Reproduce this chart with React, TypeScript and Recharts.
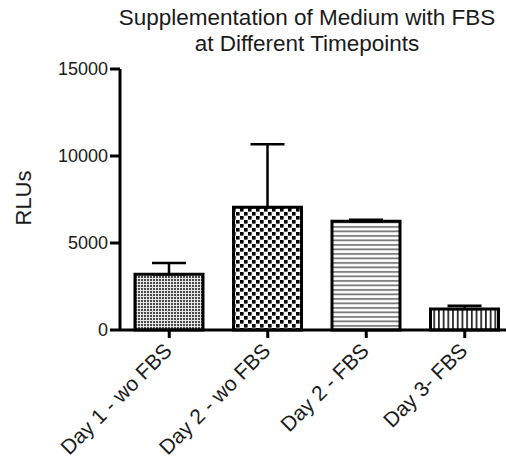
import React from 'react';
import { BarChart, Bar, XAxis, YAxis, ErrorBar, Cell } from 'recharts';

const categories = ['Day 1 - wo FBS', 'Day 2 - wo FBS', 'Day 2 - FBS', 'Day 3- FBS'];
const rlus = [3200, 7050, 6250, 1200];
const upperErr = [650, 3620, 80, 190];
const yTicks = [0, 5000, 10000, 15000];
const patterns = ['fineCheck', 'coarseCheck', 'hLines', 'vLines'];

const data = categories.map((name, i) => ({ name, value: rlus[i], err: [0, upperErr[i]] }));

const FONT = '"Liberation Sans", Arial, Helvetica, sans-serif';

const XTick = (props: any) => {
    const { x, y, payload } = props;
    return (
        <g transform={`translate(${x + 4},${y + 12})`}>
            <text x={0} y={0} transform="rotate(-45)" textAnchor="end" fill="#1a1a1a" fontSize={21} fontFamily={FONT}>
                {payload.value}
            </text>
        </g>
    );
};

export default function App() {
    return (
        <div style={{ position: 'absolute', left: 0, top: 0, width: 506, height: 462, overflow: 'hidden', background: '#fff' }}>
            <div style={{ position: 'absolute', left: 107, width: 400, top: 5, textAlign: 'center', fontFamily: FONT, fontSize: 22.5, lineHeight: '26px', color: '#1a1a1a' }}>
                Supplementation of Medium with FBS<br />at Different Timepoints
            </div>
            <div style={{ position: 'absolute', left: 24, top: 198, transform: 'translate(-50%, -50%) rotate(-90deg)', fontFamily: FONT, fontSize: 22, color: '#1a1a1a', whiteSpace: 'nowrap' }}>
                RLUs
            </div>
            <BarChart width={514} height={462} data={data} margin={{ top: 69, right: 0, bottom: 0, left: 0 }}>
                <defs>
                    <pattern id="fineCheck" width={3} height={3} patternUnits="userSpaceOnUse">
                        <rect width={3} height={3} fill="#e6e6e6" />
                        <rect x={0} y={0} width={2} height={2} fill="#4a4a4a" />
                    </pattern>
                    <pattern id="coarseCheck" width={8} height={8} patternUnits="userSpaceOnUse">
                        <rect width={8} height={8} fill="#fff" />
                        <rect x={0} y={0} width={3.6} height={3.6} fill="#000" />
                        <rect x={4} y={4} width={3.6} height={3.6} fill="#000" />
                    </pattern>
                    <pattern id="hLines" width={8} height={4.5} patternUnits="userSpaceOnUse">
                        <rect width={8} height={4.5} fill="#fff" />
                        <rect x={0} y={1} width={8} height={1.8} fill="#777" />
                    </pattern>
                    <pattern id="vLines" width={4.7} height={8} patternUnits="userSpaceOnUse">
                        <rect width={4.7} height={8} fill="#fff" />
                        <rect x={1} y={0} width={1.6} height={8} fill="#111" />
                    </pattern>
                </defs>
                <XAxis
                    dataKey="name"
                    height={132}
                    interval={0}
                    tick={<XTick />}
                    tickSize={8}
                    axisLine={{ stroke: '#000', strokeWidth: 3 }}
                    tickLine={{ stroke: '#000', strokeWidth: 3 }}
                />
                <YAxis
                    width={120}
                    domain={[0, 15000]}
                    ticks={yTicks}
                    tickSize={10}
                    tickMargin={2}
                    axisLine={{ stroke: '#000', strokeWidth: 3 }}
                    tickLine={{ stroke: '#000', strokeWidth: 3 }}
                    tick={{ fill: '#1a1a1a', fontSize: 18, fontFamily: FONT }}
                />
                <Bar dataKey="value" barSize={68} stroke="#000" strokeWidth={3} isAnimationActive={false}>
                    {data.map((d, i) => (
                        <Cell key={d.name} fill={`url(#${patterns[i]})`} />
                    ))}
                    <ErrorBar dataKey="err" width={17} stroke="#000" strokeWidth={2.5} isAnimationActive={false} />
                </Bar>
            </BarChart>
        </div>
    );
}
